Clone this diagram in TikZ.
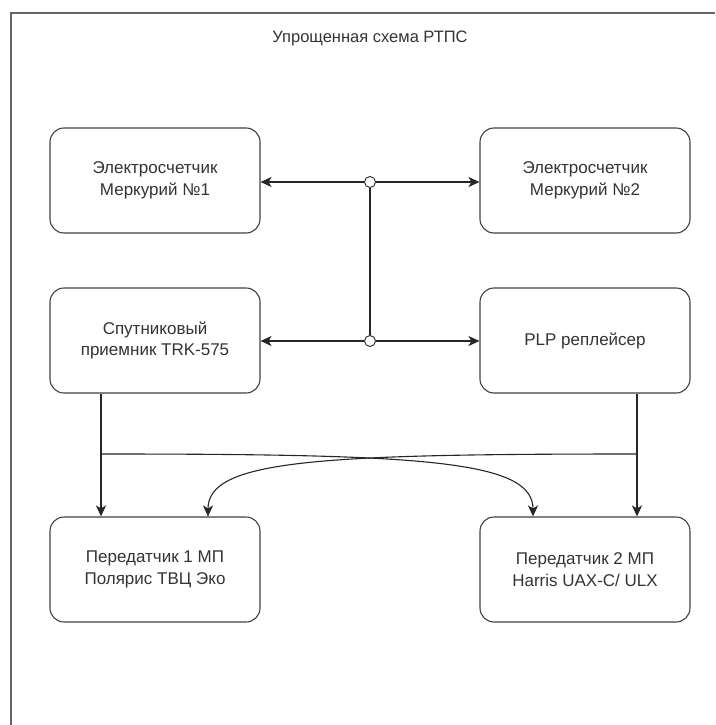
\documentclass[tikz,border=0pt]{standalone}
\usepackage{fontspec}
\setmainfont{Liberation Sans}
\usepackage{tikz}
\usetikzlibrary{arrows.meta}

\begin{document}
\begin{tikzpicture}[x=1pt, y=-1pt,
    block/.style={draw=black!75, line width=1.1pt, rounded corners=14pt,
        minimum width=210pt, minimum height=105pt, align=center,
        text=black!80, font=\fontsize{17}{21.5}\selectfont},
    junction/.style={circle, draw=black!80, fill=white, line width=1pt,
        inner sep=0pt, minimum size=11pt},
    link/.style={draw=black!85, line width=1.1pt},
    arr/.style={link, -{Stealth[length=11pt, width=10pt, inset=3pt]}},
    frame/.style={draw=black!60, line width=1.5pt}]
                    \useasboundingbox (0,0) rectangle (715,725);
                    % Frame
                    \draw[frame] (11,725) -- (11,13) -- (715,13);
                    % Nodes
                    \node[text=black!80, font=\fontsize{16.5}{20}\selectfont] (title) at (370,38) {Упрощенная схема РТПС};
                    \node[block] (meter1) at (155,180.5) {Электросчетчик\\Меркурий №1};
                    \node[block] (meter2) at (585,180.5) {Электросчетчик\\Меркурий №2};
                    \node[block] (receiver) at (155,340.5) {Спутниковый\\приемник TRK-575};
                    \node[block] (replacer) at (585,340.5) {PLP реплейсер};
                    \node[block] (tx1) at (155,569.5) {Передатчик 1 МП\\Полярис ТВЦ Эко};
                    \node[block] (tx2) at (585,569.5) {Передатчик 2 МП\\Harris UAX-C/ ULX};
                    \node[junction] (j1) at (370,182) {};
                    \node[junction] (j2) at (370,341) {};
                    \coordinate (rx) at (101,454);
                    \coordinate (px) at (637,454);
                    \coordinate (t1in) at (208,517);
                    \coordinate (t2in) at (533,517);
                    % Edges
                    \draw[link] (j1) -- (j2);
                    \draw[arr] (j1) -- (j1 -| meter1.east);
                    \draw[arr] (j1) -- (j1 -| meter2.west);
                    \draw[arr] (j2) -- (j2 -| receiver.east);
                    \draw[arr] (j2) -- (j2 -| replacer.west);
                    \draw[arr] (receiver.south -| rx) -- (tx1.north -| rx);
                    \draw[arr] (replacer.south -| px) -- (tx2.north -| px);
                    \draw[arr] (rx) .. controls (420,454) and (533,460) .. (tx2.north -| t2in);
                    \draw[arr] (px) .. controls (318,454) and (208,460) .. (tx1.north -| t1in);
                \end{tikzpicture}
\end{document}
